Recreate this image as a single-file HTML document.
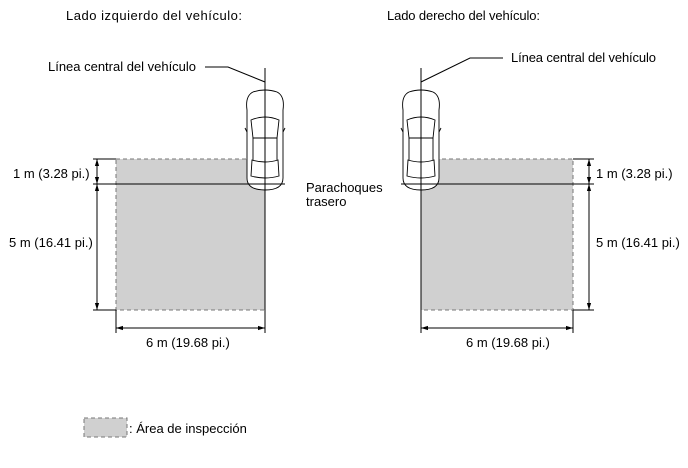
<!DOCTYPE html>
<html><head><meta charset="utf-8"><style>
body{margin:0;background:#fff;width:688px;height:463px;overflow:hidden}
svg text{font-family:"Liberation Sans",Arial,sans-serif;font-size:13px;fill:#000}
</style></head><body>
<svg width="688" height="463" viewBox="0 0 688 463" xmlns="http://www.w3.org/2000/svg">
<defs>
<marker id="a" viewBox="0 0 10 10" refX="10" refY="5" markerWidth="7" markerHeight="7" orient="auto-start-reverse"><path d="M0,2 L10,5 L0,8z" fill="#000"/></marker>
<g id="car" fill="#fff" stroke="#000" stroke-width="0.9">
<path d="M-18,12 Q-20,-2 -12,-6 Q0,-10 12,-6 Q20,-2 18,12 L18,80 Q18,92 0,92 Q-18,92 -18,80 Z"/>
<path d="M-14,22 Q0,16 14,22 L12,40 L-12,40 Z"/>
<path d="M-12,40 L-12,62 M12,40 L12,62 M-13,62 Q0,66 13,62 L14,78 Q0,82 -14,78 Z"/>
<path d="M-20,30 L-18,34 M20,30 L18,34"/>
</g>
</defs>
<g fill="none" stroke="#000">
<rect x="116" y="159" width="149" height="151" fill="#d0d0d0" stroke="#777" stroke-dasharray="4,3"/>
<use href="#car" x="265" y="98"/>
<line x1="265" y1="68" x2="265" y2="310"/>
<line x1="93" y1="184" x2="285" y2="184"/>
<line x1="93" y1="159" x2="116" y2="159"/>
<line x1="93" y1="310" x2="116" y2="310"/>
<line x1="97" y1="159" x2="97" y2="184" marker-start="url(#a)" marker-end="url(#a)"/>
<line x1="97" y1="184" x2="97" y2="310" marker-start="url(#a)" marker-end="url(#a)"/>
<line x1="116" y1="310" x2="116" y2="333"/>
<line x1="265" y1="310" x2="265" y2="333"/>
<line x1="116" y1="328" x2="265" y2="328" marker-start="url(#a)" marker-end="url(#a)"/>
<polyline points="205,67 228,67 265,82"/>
<rect x="421" y="159" width="152" height="151" fill="#d0d0d0" stroke="#777" stroke-dasharray="4,3"/>
<use href="#car" x="421" y="98"/>
<line x1="421" y1="68" x2="421" y2="310"/>
<line x1="401" y1="184" x2="594" y2="184"/>
<line x1="573" y1="159" x2="594" y2="159"/>
<line x1="573" y1="310" x2="594" y2="310"/>
<line x1="589" y1="159" x2="589" y2="184" marker-start="url(#a)" marker-end="url(#a)"/>
<line x1="589" y1="184" x2="589" y2="310" marker-start="url(#a)" marker-end="url(#a)"/>
<line x1="421" y1="310" x2="421" y2="333"/>
<line x1="573" y1="310" x2="573" y2="333"/>
<line x1="421" y1="328" x2="573" y2="328" marker-start="url(#a)" marker-end="url(#a)"/>
<polyline points="503,58 470,58 421,82"/>
<rect x="84" y="418" width="43" height="19" fill="#d0d0d0" stroke="#777" stroke-dasharray="4,3"/>
</g>
<text x="66" y="20" textLength="176">Lado izquierdo del vehículo:</text>
<text x="387" y="20" textLength="153">Lado derecho del vehículo:</text>
<text x="48" y="71" textLength="148">Línea central del vehículo</text>
<text x="511" y="62" textLength="145">Línea central del vehículo</text>
<text x="13" y="178">1 m (3.28 pi.)</text>
<text x="9" y="247">5 m (16.41 pi.)</text>
<text x="596" y="178">1 m (3.28 pi.)</text>
<text x="596" y="247">5 m (16.41 pi.)</text>
<text x="306" y="192">Parachoques</text>
<text x="306" y="206">trasero</text>
<text x="146" y="347">6 m (19.68 pi.)</text>
<text x="466" y="347">6 m (19.68 pi.)</text>
<text x="129" y="433">: Área de inspección</text>
</svg>
</body></html>
